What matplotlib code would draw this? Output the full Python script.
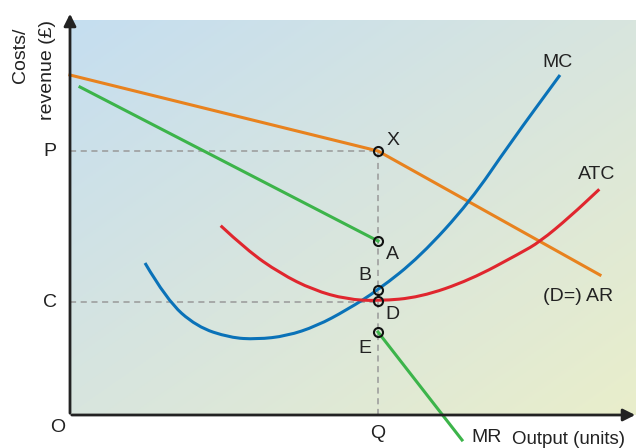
import numpy as np
import matplotlib
matplotlib.use('Agg')
import matplotlib.pyplot as plt
import matplotlib.colors as colors
from matplotlib.path import Path
from matplotlib.patches import PathPatch

plt.rcParams['font.family'] = ['Liberation Sans', 'DejaVu Sans']

# ---------------------------------------------------------------
# curves (x = output, y = costs/revenue)
# ---------------------------------------------------------------
Q = 308
P = 264
C = 113

ar_x = [0, 308, 530]
ar_y = [340, 264, 140]

mr1_x = [10, 308]
mr1_y = [328, 174]
mr2_x = [308, 392]
mr2_y = [83, -25]

mc_x = [75, 96.7, 126.7, 160, 186.7, 216.7, 246.7, 276.7, 308.3, 350, 400, 440, 490]
mc_y = [152, 115, 88.3, 77.3, 75.7, 79, 89, 105, 125, 158.3, 213.3, 271.7, 340]

atc_x = [150.7, 176.7, 210, 243.3, 276.7, 308.3, 350, 400, 450, 470, 500, 529.3]
atc_y = [189.3, 165, 141.7, 125, 115.7, 114, 117.7, 135, 161.7, 173.3, 198.3, 225.7]

pts_lab = ['X', 'A', 'B', 'D', 'E']
pts_y = [264, 174, 125, 114, 83]


def curva_suave(ax, xs, ys, color):
    # bezier cuadratica por los puntos medios, para que no se vea quebrada
    v = [(xs[0], ys[0])]
    cod = [Path.MOVETO]
    for i in range(1, len(xs) - 1):
        mx = (xs[i] + xs[i + 1]) / 2.0
        my = (ys[i] + ys[i + 1]) / 2.0
        v += [(xs[i], ys[i]), (mx, my)]
        cod += [Path.CURVE3, Path.CURVE3]
    v.append((xs[-1], ys[-1]))
    cod.append(Path.LINETO)
    ax.add_patch(PathPatch(Path(v, cod), fc='none', ec=color, lw=2.2, zorder=3,
                           capstyle='butt'))


# ---------------------------------------------------------------
fig = plt.figure(figsize=(6.39, 4.48), dpi=100)
ax = fig.add_axes([0, 0, 1, 1])
ax.set_xlim(-70, 569)
ax.set_ylim(-33, 415)
ax.axis('off')

# fondo degradado
cmap = colors.LinearSegmentedColormap.from_list('bg', ['#c5def0', '#d8e5de', '#e9eecb'])
gx, gy = np.meshgrid(np.linspace(0, 1, 200), np.linspace(0, 1, 200))
grad = (gx + gy) / 2.0
ax.imshow(grad, cmap=cmap, extent=[0, 566, 0, 395], origin='upper', aspect='auto', zorder=0)

# lineas punteadas
dash = dict(color='#999999', lw=1.1, ls=(0, (4, 3)), zorder=1)
ax.plot([0, Q], [P, P], **dash)
ax.plot([0, Q], [C, C], **dash)
ax.plot([Q, Q], [0, P], **dash)

# curvas
ax.plot(ar_x, ar_y, color='#e8821e', lw=2.2, zorder=3)
ax.plot(mr1_x, mr1_y, color='#3cb44a', lw=2.2, zorder=3)
ax.plot(mr2_x, mr2_y, color='#3cb44a', lw=2.2, zorder=3, clip_on=False)
curva_suave(ax, mc_x, mc_y, '#0a72b8')
curva_suave(ax, atc_x, atc_y, '#e0262e')

# ejes con flecha
ax.annotate('', xy=(0, 404), xytext=(0, -1),
            arrowprops=dict(arrowstyle='-|>', color='#222222', lw=2, mutation_scale=18), zorder=5)
ax.annotate('', xy=(568, 0), xytext=(-1, 0),
            arrowprops=dict(arrowstyle='-|>', color='#222222', lw=2, mutation_scale=18), zorder=5)

# puntos
ax.plot([Q] * len(pts_y), pts_y, 'o', ms=6.5, mfc='none', mec='#111111', mew=1.5, zorder=6)

fs = 14
tc = '#222222'
ax.text(393 - 70, 415 - 140, 'X', fontsize=fs, color=tc, ha='center', va='center')
ax.text(392 - 70, 415 - 254, 'A', fontsize=fs, color=tc, ha='center', va='center')
ax.text(365 - 70, 415 - 275, 'B', fontsize=fs, color=tc, ha='center', va='center')
ax.text(392 - 70, 415 - 314, 'D', fontsize=fs, color=tc, ha='center', va='center')
ax.text(365 - 70, 415 - 348, 'E', fontsize=fs, color=tc, ha='center', va='center')

ax.text(-20, P, 'P', fontsize=fs, color=tc, ha='center', va='center')
ax.text(-20, C, 'C', fontsize=fs, color=tc, ha='center', va='center')
ax.text(-12, -12, 'O', fontsize=fs, color=tc, ha='center', va='center')
ax.text(Q, -18, 'Q', fontsize=fs, color=tc, ha='center', va='center')
ax.text(417, -22, 'MR', fontsize=fs, color=tc, ha='center', va='center')
ax.text(499, -24, 'Output (units)', fontsize=13.5, color=tc, ha='center', va='center')
ax.text(488, 353, 'MC', fontsize=fs, color=tc, ha='center', va='center')
ax.text(527, 241, 'ATC', fontsize=fs, color=tc, ha='center', va='center')
ax.text(508, 119, '(D=) AR', fontsize=fs, color=tc, ha='center', va='center')

ax.text(-50, 360, 'Costs/', fontsize=fs, color=tc, ha='center', va='center', rotation=90)
ax.text(-23, 345, 'revenue (£)', fontsize=fs, color=tc, ha='center', va='center', rotation=90)

plt.savefig('out.png', dpi=100)
plt.close('all')
